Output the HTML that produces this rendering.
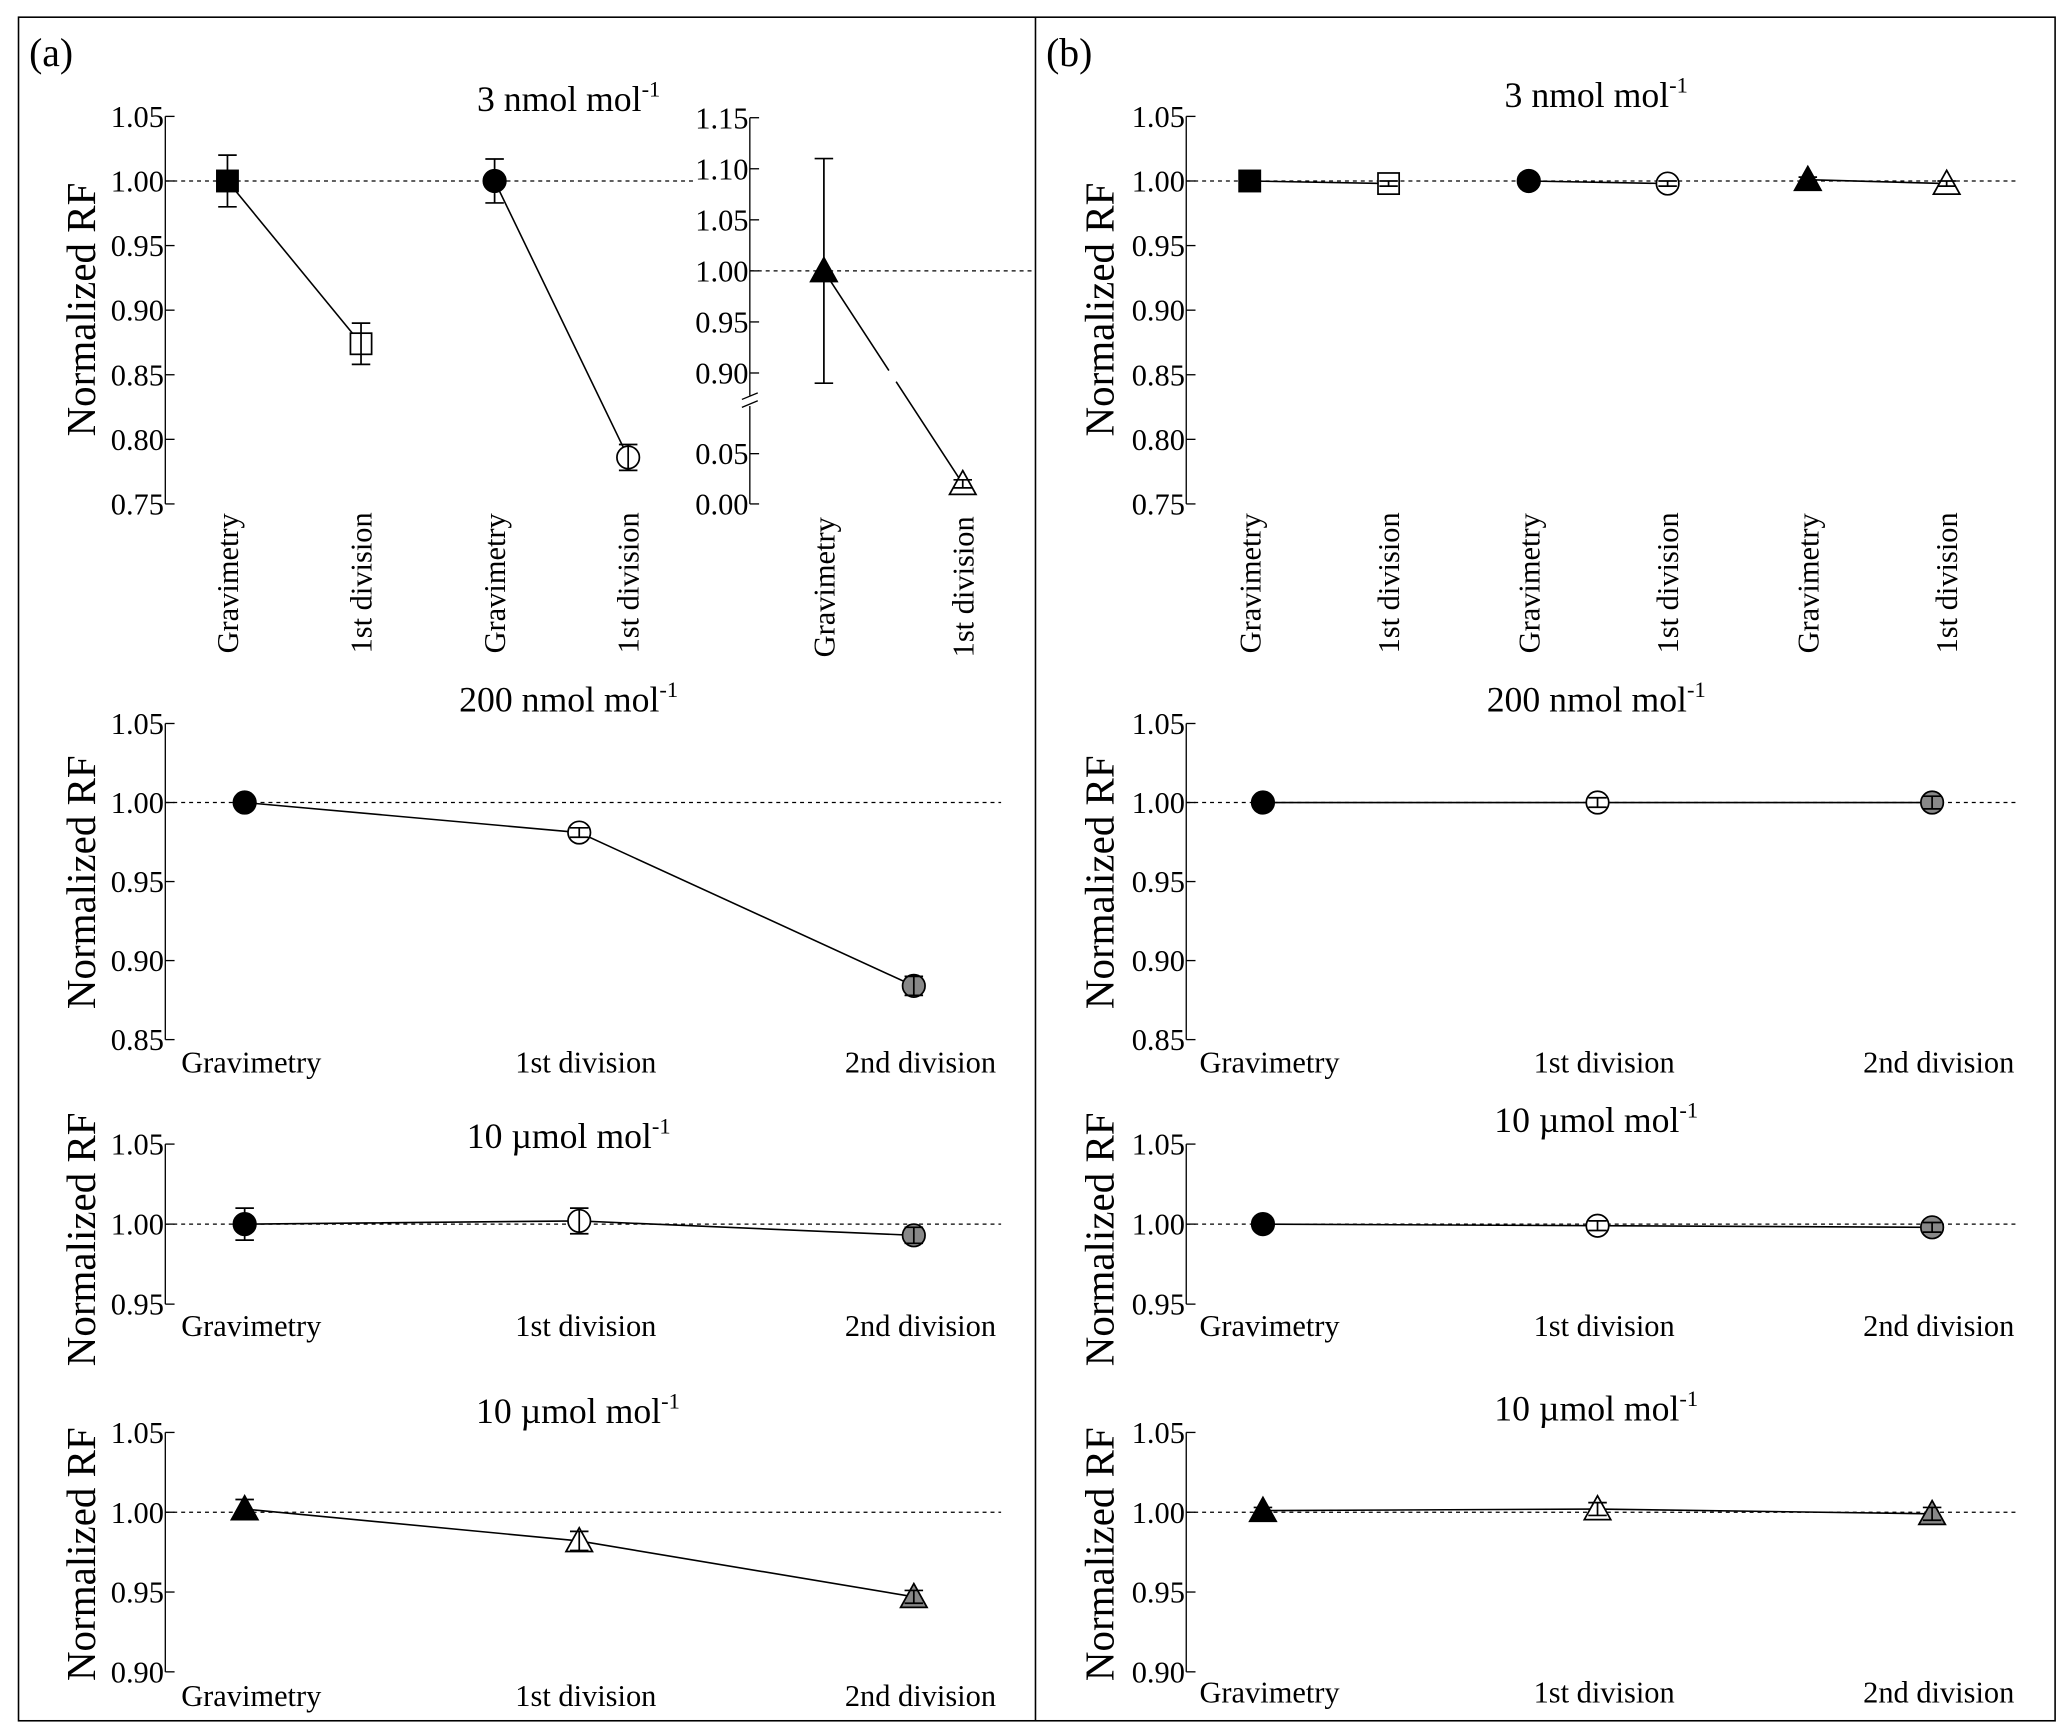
<!DOCTYPE html>
<html><head><meta charset="utf-8"><style>
html,body{margin:0;padding:0;background:#fff}
svg{display:block;font-family:"Liberation Serif","Times New Roman","DejaVu Serif",serif}
svg text{font-family:"Liberation Serif","Times New Roman","DejaVu Serif",serif;fill:#000}
</style></head><body>
<svg id="c" width="2067" height="1734" viewBox="0 0 1563 1311" preserveAspectRatio="none" font-family="Liberation Serif, serif">
<rect x="14" y="13" width="1540" height="1288" fill="none" stroke="#000" stroke-width="1.2"/>
<line x1="783" y1="13" x2="783" y2="1301" stroke="#000" stroke-width="1.2"/>
<text x="22" y="50" font-size="30">(a)</text>
<text x="791" y="50" font-size="30">(b)</text>
</svg>
<script>
// ---- data ----
const catsTop = ["Gravimetry","1st division"];
const cats3 = ["Gravimetry","1st division","2nd division"];
const ticksTop = [0.75,0.80,0.85,0.90,0.95,1.00,1.05];
const ticksUpper = [0.90,0.95,1.00,1.05,1.10,1.15];
const ticksLower = [0.00,0.05];
const ticks200 = [0.85,0.90,0.95,1.00,1.05];
const ticks10a = [0.95,1.00,1.05];
const ticks10b = [0.90,0.95,1.00,1.05];
const aSq = [1.000,0.874]; const aSqErr = [0.020,0.016];
const aCi = [1.000,0.786]; const aCiErr = [0.017,0.010];
const aTrUpper = [1.000]; const aTrUpperErr = [0.110];
const aTrLower = [0.020]; const aTrLowerErr = [0.004];
const a200 = [1.000,0.981,0.884]; const a200Err = [0.002,0.003,0.006];
const a10c = [1.000,1.002,0.993]; const a10cErr = [0.010,0.008,0.005];
const a10t = [1.002,0.982,0.947]; const a10tErr = [0.006,0.006,0.004];
const bSq = [1.000,0.998]; const bCi = [1.000,0.998]; const bTr = [1.001,0.998];
const bTopErr = [0.002,0.002];
const b200 = [1.000,1.000,1.000]; const b200Err = [0.002,0.003,0.004];
const b10c = [1.000,0.999,0.998]; const b10cErr = [0.002,0.003,0.003];
const b10t = [1.001,1.002,0.999]; const b10tErr = [0.002,0.004,0.004];

const svg = document.getElementById('c');
const NS = 'http://www.w3.org/2000/svg';
function mk(tag, attrs, parent){
  const e = document.createElementNS(NS, tag);
  for (const k in attrs) e.setAttribute(k, attrs[k]);
  (parent||svg).appendChild(e); return e;
}
function txt(x,y,s,size,anchor,rot){
  const t = mk('text',{x:x,y:y,'font-size':size,'text-anchor':anchor||'start','font-family':'Liberation Serif, serif'});
  if (rot) t.setAttribute('transform','rotate(-90 '+x+' '+y+')');
  t.textContent = s; return t;
}
function scale(v0,y0,v1,y1){ return v => y0 + (v-v0)*(y1-y0)/(v1-v0); }
function yAxis(x, yTop, yBot, ticks, ys, name){
  const ax = mk('line',{x1:x,y1:yTop,x2:x,y2:yBot,stroke:'#000','stroke-width':1});
  
  
  ticks.forEach(t=>{
    const l = mk('line',{x1:x,y1:ys(t),x2:x+7,y2:ys(t),stroke:'#000','stroke-width':1});
    
    
    const tl = txt(x-1, ys(t)+8, t.toFixed(2), 23, 'end');
    
    
  });
}
function yTitle(x, yc){
  const t = txt(x, yc, 'Normalized RF', 31, 'middle', true);
  
  
}
function title(x,y,label){
  const t = mk('text',{x:x,y:y,'font-size':27,'text-anchor':'middle','font-family':'Liberation Serif, serif'});
  t.textContent = label;
  const s = mk('tspan',{'font-size':17,dy:-11},t); s.textContent='-1';
  
  
}
function refLine(x1,x2,y){
  const l = mk('line',{x1:x1,y1:y,x2:x2,y2:y,stroke:'#000','stroke-width':1,'stroke-dasharray':'3,3'});
  
  
}
function series(xs, vals, errs, ys, shapes, name){
  const pts = xs.map((x,i)=>x+','+ys(vals[i])).join(' ');
  const pl = mk('polyline',{points:pts,fill:'none',stroke:'#000','stroke-width':1.2});
  
  
  xs.forEach((x,i)=>{
    const y = ys(vals[i]);
    marker(shapes[i][0], shapes[i][1], x, y, name);
    const e = errs[i];
    if (e){
      const yt = ys(vals[i]+e), yb = ys(vals[i]-e);
      const eb = mk('path',{d:'M'+x+' '+yt+'V'+yb+'M'+(x-7)+' '+yt+'H'+(x+7)+'M'+(x-7)+' '+yb+'H'+(x+7),stroke:'#000','stroke-width':1.3,fill:'none'});
      
      
    }
  });
}
function marker(shape, fill, x, y, name){
  let m;
  if (shape==='sq') m = mk('rect',{x:x-8,y:y-8,width:16,height:16});
  else if (shape==='ci') m = mk('circle',{cx:x,cy:y,r:8.5});
  else m = mk('polygon',{points:x+','+(y-10)+' '+(x+10)+','+(y+8)+' '+(x-10)+','+(y+8)});
  m.setAttribute('fill', fill); m.setAttribute('stroke','#000'); m.setAttribute('stroke-width',1.3);
  
  
}
function rotCats(xs, labels, y){
  xs.forEach((x,i)=>{
    const t = txt(x+8, y, labels[i%labels.length], 23, 'start', true);
    
    
  });
}
function hCats(xs, labels, y){
  xs.forEach((x,i)=>{
    const t = txt(x+5, y, labels[i], 23, 'middle');
    
    
  });
}

// ===== Panel a =====
let ys = scale(1.05,88,0.75,381);
yAxis(125,88,381,ticksTop,ys,'a-top');
refLine(125,525,ys(1));
yTitle(72,234);
title(430,84,'3 nmol mol');
series([172,273],aSq,aSqErr,ys,[['sq','#000'],['sq','#fff']],'a-square');
series([374,475],aCi,aCiErr,ys,[['ci','#000'],['ci','#fff']],'a-circle');
rotCats([172,273,374,475],catsTop,494);
const ysU = scale(1.15,89,0.90,282);
const ysL = scale(0.05,343,0.00,381);
let ax2 = mk('line',{x1:567,y1:89,x2:567,y2:299,stroke:'#000'});
 
ax2 = mk('line',{x1:567,y1:307,x2:567,y2:381,stroke:'#000'});
 
const br = mk('path',{d:'M561 302L573 297M561 308L573 303',stroke:'#000',fill:'none'});
 
ticksUpper.forEach(t=>{
  const l = mk('line',{x1:567,y1:ysU(t),x2:574,y2:ysU(t),stroke:'#000'});
   
  const tl = txt(566,ysU(t)+8,t.toFixed(2),23,'end');
   
});
ticksLower.forEach(t=>{
  const l = mk('line',{x1:567,y1:ysL(t),x2:574,y2:ysL(t),stroke:'#000'});
   
  const tl = txt(566,ysL(t)+8,t.toFixed(2),23,'end');
   
});
refLine(567,783,ysU(1));
const trL = mk('line',{x1:623,y1:ysU(aTrUpper[0]),x2:728,y2:ysL(aTrLower[0]),stroke:'#000','stroke-width':1.2,'stroke-dasharray':'90,10,200'});
 
series([623],aTrUpper,aTrUpperErr,ysU,[['tr','#000']],'a-triangle');
series([728],aTrLower,aTrLowerErr,ysL,[['tr','#fff']],'a-triangle');
rotCats([623,728],catsTop,497);

ys = scale(1.05,547,0.85,786);
yAxis(125,547,786,ticks200,ys,'a-200');
refLine(125,757,ys(1));
yTitle(72,667);
title(430,538,'200 nmol mol');
series([185,438,691],a200,a200Err,ys,[['ci','#000'],['ci','#fff'],['ci','#888']],'a-200');
hCats([185,438,691],cats3,811);

ys = scale(1.05,865,0.95,986);
yAxis(125,865,986,ticks10a,ys,'a-10c');
refLine(125,757,ys(1));
yTitle(72,937);
title(430,868,'10 µmol mol');
series([185,438,691],a10c,a10cErr,ys,[['ci','#000'],['ci','#fff'],['ci','#888']],'a-10c');
hCats([185,438,691],cats3,1010);

ys = scale(1.05,1083,0.90,1264);
yAxis(125,1083,1264,ticks10b,ys,'a-10t');
refLine(125,757,ys(1));
yTitle(72,1175);
title(437,1076,'10 µmol mol');
series([185,438,691],a10t,a10tErr,ys,[['tr','#000'],['tr','#fff'],['tr','#888']],'a-10t');
hCats([185,438,691],cats3,1290);

// ===== Panel b =====
ys = scale(1.05,88,0.75,381);
yAxis(897,88,381,ticksTop,ys,'b-top');
refLine(897,1527,ys(1));
yTitle(842,234);
title(1207,81,'3 nmol mol');
series([945,1050],bSq,bTopErr,ys,[['sq','#000'],['sq','#fff']],'b-square');
series([1156,1261],bCi,bTopErr,ys,[['ci','#000'],['ci','#fff']],'b-circle');
series([1367,1472],bTr,bTopErr,ys,[['tr','#000'],['tr','#fff']],'b-triangle');
rotCats([945,1050,1156,1261,1367,1472],catsTop,494);

ys = scale(1.05,547,0.85,786);
yAxis(897,547,786,ticks200,ys,'b-200');
refLine(897,1527,ys(1));
yTitle(842,667);
title(1207,538,'200 nmol mol');
series([955,1208,1461],b200,b200Err,ys,[['ci','#000'],['ci','#fff'],['ci','#888']],'b-200');
hCats([955,1208,1461],cats3,811);

ys = scale(1.05,865,0.95,986);
yAxis(897,865,986,ticks10a,ys,'b-10c');
refLine(897,1527,ys(1));
yTitle(842,937);
title(1207,856,'10 µmol mol');
series([955,1208,1461],b10c,b10cErr,ys,[['ci','#000'],['ci','#fff'],['ci','#888']],'b-10c');
hCats([955,1208,1461],cats3,1010);

ys = scale(1.05,1083,0.90,1264);
yAxis(897,1083,1264,ticks10b,ys,'b-10t');
refLine(897,1527,ys(1));
yTitle(842,1175);
title(1207,1074,'10 µmol mol');
series([955,1208,1461],b10t,b10tErr,ys,[['tr','#000'],['tr','#fff'],['tr','#888']],'b-10t');
hCats([955,1208,1461],cats3,1287);
</script>
</body></html>
